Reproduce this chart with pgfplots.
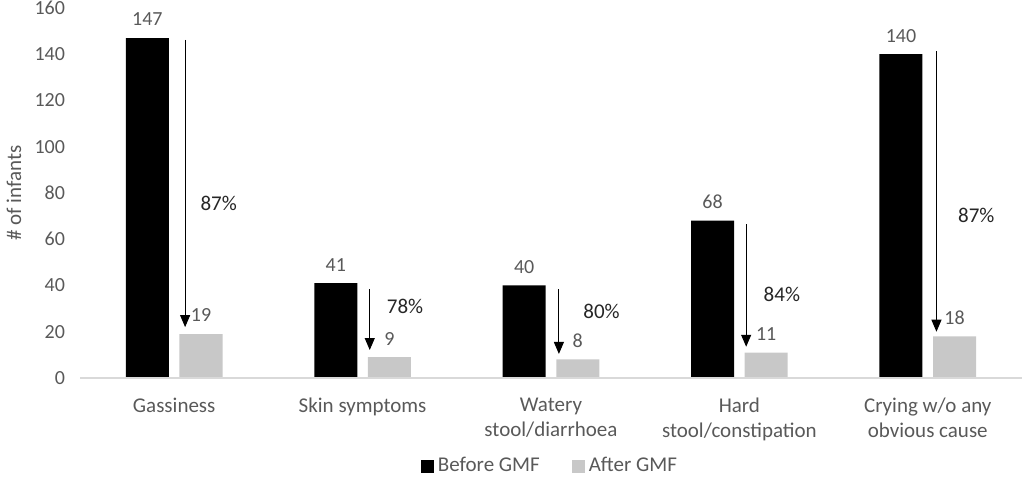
\documentclass[border=0pt]{standalone}
\usepackage{fontspec}
\setmainfont{Carlito}
\usepackage{pgfplots}
\usepackage{pgfplotstable}
\pgfplotsset{compat=1.18}
\usetikzlibrary{arrows.meta}

\definecolor{txtgray}{HTML}{595959}
\definecolor{pctcol}{HTML}{262626}
\definecolor{afterbar}{HTML}{C8C8C8}
\definecolor{axisline}{HTML}{D9D9D9}

\pgfplotsset{
  sqlegend/.style={legend image code/.code={\fill[##1] (0pt,-3.25pt) rectangle (6.5pt,3.25pt);}},
}

% symptom counts, before and after GMF
\pgfplotstableread{
x before after
0 147 19
1 41 9
2 40 8
3 68 11
4 140 18
}\datatable

\begin{document}
\begin{tikzpicture}
\path[use as bounding box] (-40pt,-51pt) rectangle (472pt,189pt);
\begin{axis}[
  at={(0,0)}, anchor=south west,
  scale only axis,
  width=471pt, height=185pt,
  ybar, bar width=21.5pt,
  xmin=-0.5, xmax=4.5,
  ymin=0, ymax=160,
  ytick={0,20,...,160},
  xtick={0,1,2,3,4},
  xticklabels={Gassiness, Skin symptoms, {Watery\\stool/diarrhoea}, {Hard\\stool/constipation}, {Crying w/o any\\obvious cause}},
  major tick length=0pt,
  axis line style={draw=none},
  clip=false,
  /pgf/number format/assume math mode=true,
  xticklabel style={font=\fontsize{10.5}{12.5}\selectfont, text=txtgray, align=center, yshift=-6.5pt},
  yticklabel style={font=\fontsize{10}{12}\selectfont, text=txtgray, xshift=-4pt},
  ylabel={\# of infants},
  ylabel style={at={([xshift=-33pt]axis description cs:0,0.5)}, anchor=center, font=\fontsize{10.5}{12.5}\selectfont, text=txtgray},
  nodes near coords,
  every node near coord/.append style={font=\fontsize{10}{12}\selectfont, text=txtgray, yshift=2.5pt},
  legend columns=2,
  legend style={at={(0.5,-0.238)}, anchor=center, draw=none, font=\fontsize{10.5}{12.5}\selectfont, text=txtgray,
    /tikz/every even column/.append style={column sep=14pt}},
]
\addplot[fill=black, draw=none, bar shift=-13.4pt, sqlegend]
  table[x=x, y=before] {\datatable};
\addlegendentry{Before GMF}
\addplot[fill=afterbar, draw=none, bar shift=13.4pt, sqlegend]
  table[x=x, y=after] {\datatable};
\addlegendentry{After GMF}

\draw[axisline, line width=0.8pt] (axis cs:-0.5,0) -- (axis cs:4.5,0);

% reduction arrows and percentages
\draw[-{Triangle[width=5pt,length=6pt]}, line width=0.5pt] (axis cs:0.058,146.2) -- (axis cs:0.058,22);
\draw[-{Triangle[width=5pt,length=6pt]}, line width=0.5pt] (axis cs:1.038,38.4) -- (axis cs:1.038,12.1);
\draw[-{Triangle[width=5pt,length=6pt]}, line width=0.5pt] (axis cs:2.042,38.4) -- (axis cs:2.042,10.4);
\draw[-{Triangle[width=5pt,length=6pt]}, line width=0.5pt] (axis cs:3.036,66.5) -- (axis cs:3.036,13.5);
\draw[-{Triangle[width=5pt,length=6pt]}, line width=0.5pt] (axis cs:4.046,141.2) -- (axis cs:4.046,20);

\node[anchor=west, inner sep=0pt, text=pctcol, font=\fontsize{10.5}{12.5}\selectfont] at (axis cs:0.138,75.3) {87\%};
\node[anchor=west, inner sep=0pt, text=pctcol, font=\fontsize{10.5}{12.5}\selectfont] at (axis cs:1.127,30.9) {78\%};
\node[anchor=west, inner sep=0pt, text=pctcol, font=\fontsize{10.5}{12.5}\selectfont] at (axis cs:2.170,28.7) {80\%};
\node[anchor=west, inner sep=0pt, text=pctcol, font=\fontsize{10.5}{12.5}\selectfont] at (axis cs:3.127,36.2) {84\%};
\node[anchor=west, inner sep=0pt, text=pctcol, font=\fontsize{10.5}{12.5}\selectfont] at (axis cs:4.159,70.2) {87\%};
\end{axis}
\end{tikzpicture}
\end{document}
